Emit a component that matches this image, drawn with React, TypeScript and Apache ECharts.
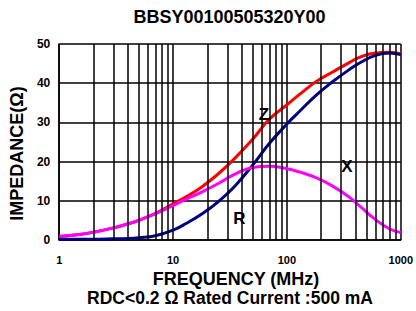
import React, { useEffect, useRef } from "react";
import * as echarts from "echarts";

const freqs = [1, 1.5, 2, 3, 4, 5, 7, 10, 13, 18, 25, 35, 50, 70, 100, 130, 180, 250, 350, 450, 600, 800, 1000];
const zValues = [0.9, 1.4, 2.0, 3.1, 4.1, 5.0, 6.8, 9.2, 11.0, 13.6, 16.9, 20.9, 25.7, 30.8, 34.5, 37.2, 40.4, 42.8, 45.2, 46.8, 47.7, 47.9, 47.5];
const rValues = [0.2, 0.2, 0.2, 0.3, 0.4, 0.6, 1.1, 2.5, 4.2, 6.7, 9.8, 13.8, 19.1, 24.6, 29.6, 32.9, 36.9, 40.3, 43.4, 45.4, 47.1, 47.7, 47.3];
const xValues = [0.9, 1.4, 2.0, 3.1, 4.1, 5.0, 6.7, 8.8, 10.4, 12.3, 14.4, 16.8, 18.5, 18.8, 18.2, 17.3, 15.9, 13.8, 11.0, 8.3, 5.2, 2.8, 1.9];
const tickLabels = ["1", "10", "100", "1000"];
const minorGrid = [2, 3, 4, 5, 6, 7, 8, 9, 20, 30, 40, 50, 60, 70, 80, 90, 200, 300, 400, 500, 600, 700, 800, 900];
const curveLabels = [
  { name: "Z", coord: [62.7, 31.9] },
  { name: "R", coord: [38.3, 5.6] },
  { name: "X", coord: [336, 18.7] },
];
const titleText = "BBSY00100505320Y00";
const subText = "RDC<0.2 Ω Rated Current :500 mA";

const FONT = "'Liberation Sans', Arial, sans-serif";

export default function App() {
  const ref = useRef<HTMLDivElement>(null);
  useEffect(() => {
    if (!ref.current) return;
    const chart = echarts.init(ref.current, undefined, { renderer: "svg" });
    const pair = (vals: number[]) => freqs.map((f, i) => [f, vals[i]]);
    const lineSeries = (name: string, vals: number[], color: string, extra: any = {}) => ({
      name,
      type: "line",
      data: pair(vals),
      showSymbol: false,
      smooth: 0.45,
      lineStyle: { color, width: 3 },
      itemStyle: { color },
      silent: true,
      ...extra,
    });
    chart.setOption({
      animation: false,
      backgroundColor: "#fff",
      textStyle: { fontFamily: FONT },
      grid: { left: 52, right: 14, top: 44, bottom: 71 },
      xAxis: {
        type: "log",
        logBase: 10,
        min: 1,
        max: 1000,
        name: "FREQUENCY (MHz)",
        nameLocation: "middle",
        nameGap: 24,
        nameTextStyle: { fontFamily: FONT, fontWeight: "bold", fontSize: 18, color: "#000", padding: [0, 0, 0, 12] },
        axisLine: { show: true, lineStyle: { color: "#000", width: 1.5 } },
        axisTick: { show: false },
        axisLabel: {
          fontFamily: FONT,
          fontWeight: "bold",
          fontSize: 11,
          color: "#000",
          margin: 14,
          formatter: (v: number) => tickLabels[Math.round(Math.log10(v))] ?? String(v),
        },
        splitLine: { show: true, lineStyle: { color: "#000", width: 1.5 } },
      },
      yAxis: {
        type: "value",
        min: 0,
        max: 50,
        interval: 10,
        name: "IMPEDANCE(Ω)",
        nameLocation: "middle",
        nameRotate: 90,
        nameGap: 29,
        nameTextStyle: { fontFamily: FONT, fontWeight: "bold", fontSize: 18, color: "#000", padding: [0, 23, 0, 0] },
        axisLine: { show: true, lineStyle: { color: "#000", width: 1.5 } },
        axisTick: { show: false },
        axisLabel: { fontFamily: FONT, fontWeight: "bold", fontSize: 12, color: "#000", margin: 9 },
        splitLine: { show: true, lineStyle: { color: "#000", width: 1.5 } },
      },
      graphic: [
        {
          type: "text",
          x: 229.5,
          y: 17,
          style: {
            text: titleText,
            font: `bold 18px ${FONT}`,
            fill: "#000",
            textAlign: "center",
            textVerticalAlign: "middle",
            align: "center",
            verticalAlign: "middle",
          },
        },
        {
          type: "text",
          x: 230,
          y: 298,
          style: {
            text: subText,
            font: `bold 17.5px ${FONT}`,
            fill: "#000",
            textAlign: "center",
            textVerticalAlign: "middle",
            align: "center",
            verticalAlign: "middle",
          },
        },
      ],
      series: [
        lineSeries("Z", zValues, "#ff0000", {
          markLine: {
            silent: true,
            symbol: ["none", "none"],
            label: { show: false },
            lineStyle: { color: "#000", width: 1.5, type: "solid" },
            data: minorGrid.map((v) => ({ xAxis: v })),
          },
          markPoint: {
            silent: true,
            symbol: "circle",
            symbolSize: 0,
            label: {
              show: true,
              position: "inside",
              formatter: "{b}",
              fontFamily: FONT,
              fontWeight: "bold",
              fontSize: 17,
              color: "#000",
            },
            data: curveLabels.map((c) => ({ name: c.name, coord: c.coord })),
          },
        }),
        lineSeries("R", rValues, "#000080"),
        lineSeries("X", xValues, "#ff00ff"),
      ],
    });
    return () => chart.dispose();
  }, []);
  return <div ref={ref} style={{ width: 416, height: 311, position: "absolute", left: 0, top: 0 }} />;
}
